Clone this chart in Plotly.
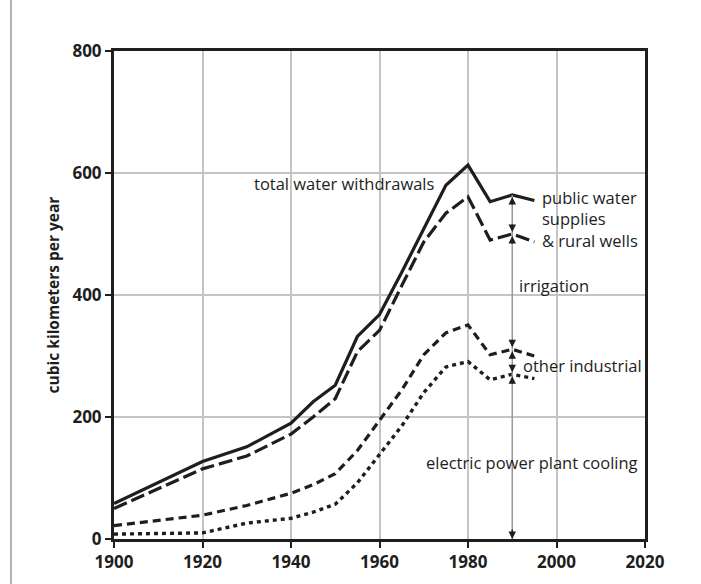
import plotly.graph_objects as go

# Data (cubic kilometers per year)
years = [1900, 1910, 1920, 1930, 1940, 1945, 1950, 1955, 1960, 1965, 1970, 1975, 1980, 1985, 1990, 1995]
total = [58, 93, 127, 151, 190, 225, 252, 332, 368, 437, 508, 580, 613, 553, 564, 555]
irrig_top = [50, 83, 115, 136, 172, 200, 230, 307, 342, 415, 487, 534, 561, 490, 500, 487]
industrial_top = [22, 30, 39, 55, 75, 89, 107, 145, 195, 244, 302, 338, 351, 302, 311, 300]
power = [8, 9, 10, 26, 34, 44, 57, 92, 138, 185, 240, 282, 291, 261, 270, 263]

x_ticks = [1900, 1920, 1940, 1960, 1980, 2000, 2020]
y_ticks = [0, 200, 400, 600, 800]

arrow_year = 1990

INK = "#1e1e1e"
FONT = "Open Sans"

fig = go.Figure()

series = [
    (total, "solid", 3.2),
    (irrig_top, "14px,5px", 3.2),
    (industrial_top, "8px,5px", 3.2),
    (power, "4px,4px", 3.4),
]
for vals, dash, w in series:
    fig.add_trace(go.Scatter(
        x=years, y=vals, mode="lines",
        line=dict(color=INK, width=w, dash=dash),
        showlegend=False, hoverinfo="skip",
    ))

# Double-headed arrows at 1990 between successive curves
i = years.index(arrow_year)
levels = [total[i], irrig_top[i], industrial_top[i], power[i], 0]
for top, bot in zip(levels[:-1], levels[1:]):
    fig.add_shape(type="line", xref="x", yref="y", x0=arrow_year, x1=arrow_year,
                  y0=bot, y1=top, line=dict(color="#9a9a9a", width=1.5), layer="above")
    fig.add_annotation(x=arrow_year, y=top, xref="x", yref="y", text="",
                       showarrow=True, ax=0, ay=11, arrowhead=2, arrowsize=1,
                       arrowwidth=1.5, arrowcolor=INK, standoff=2)
    fig.add_annotation(x=arrow_year, y=bot, xref="x", yref="y", text="",
                       showarrow=True, ax=0, ay=-11, arrowhead=2, arrowsize=1,
                       arrowwidth=1.5, arrowcolor=INK, standoff=2 if bot > 0 else 0)

labels = [
    ("total water withdrawals", 1973, 582, "right"),
    ("public water<br>supplies<br>& rural wells", 1996.3, 524, "left"),
    ("irrigation", 1991, 415, "left"),
    ("other industrial", 1991.9, 284, "left"),
    ("electric power plant cooling", 1970, 126, "left"),
]
for txt, xx, yy, anc in labels:
    fig.add_annotation(x=xx, y=yy, xref="x", yref="y", text=txt, showarrow=False,
                       xanchor=anc, yanchor="middle", align="left",
                       font=dict(family=FONT, size=16.5, color=INK))

# page border line on the left
fig.add_shape(type="line", xref="paper", yref="paper", x0=-0.194, x1=-0.194,
              y0=-0.1, y1=1.11, line=dict(color="#9a9a9a", width=1.5))

axis_common = dict(
    showline=True, linecolor=INK, linewidth=3, mirror=True,
    ticks="outside", ticklen=6, tickwidth=2, tickcolor=INK,
    showgrid=True, gridcolor="#c4c4c4", gridwidth=2,
    zeroline=False,
    tickfont=dict(family=FONT, size=17, color=INK, weight="bold"),
)

fig.update_xaxes(range=[1900, 2020], tickvals=x_ticks, ticktext=[str(v) for v in x_ticks], **axis_common)
fig.update_yaxes(range=[0, 800], tickvals=y_ticks, ticktext=[str(v) for v in y_ticks],
                 title=dict(text="cubic kilometers per year",
                            font=dict(family=FONT, size=15.5, color=INK, weight="bold"),
                            standoff=10),
                 **axis_common)

fig.update_layout(
    width=701, height=584,
    margin=dict(l=114, r=56, t=51, b=45),
    paper_bgcolor="white", plot_bgcolor="white",
    font=dict(family=FONT, color=INK),
)

fig.write_html("out.html")
